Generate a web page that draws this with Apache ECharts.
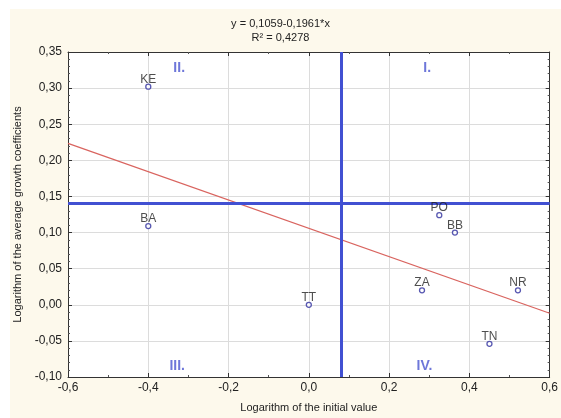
<!DOCTYPE html>
<html>
<head>
<meta charset="utf-8">
<script src="https://cdn.jsdelivr.net/npm/echarts@6/dist/echarts.min.js"></script>
<style>
  html, body { margin: 0; padding: 0; background: #ffffff; }
  #chart { width: 561px; height: 418px; }
</style>
</head>
<body>
<div id="chart"></div>
<script>
const regionNames = ["KE", "BA", "TT", "PO", "BB", "ZA", "NR", "TN"];
const initialLog = [-0.4, -0.4, 0.0, 0.325, 0.364, 0.282, 0.521, 0.45];
const growthLog = [0.302, 0.109, 0.0, 0.124, 0.1, 0.02, 0.02, -0.054];
const intercept = 0.1059;
const slope = -0.1961;
const xRange = [-0.6, 0.6];
const splitX = 0.08;
const splitY = 0.142;
const quadrantNames = ["I.", "II.", "III.", "IV."];
const quadrantX = [0.295, -0.323, -0.328, 0.288];
const quadrantY = [0.328, 0.328, -0.085, -0.085];

const FONT = "Liberation Sans, Arial, sans-serif";
const commaFmt = (digits) => (v) => v.toFixed(digits).replace(".", ",");

const pointData = regionNames.map((name, i) => ({
  name: name,
  value: [initialLog[i], growthLog[i]],
}));
const fitData = xRange.map((x) => [x, intercept + slope * x]);
const quadrantData = quadrantNames.map((name, i) => ({
  name: name,
  value: [quadrantX[i], quadrantY[i]],
}));

const chartElement = document.getElementById("chart");
const chartInstance = echarts.init(chartElement);

const baseAxis = {
  axisLine: { show: true, onZero: false, lineStyle: { color: "#333", width: 1 } },
  axisTick: { show: true, inside: true, length: 4, lineStyle: { color: "#333" } },
  minorTick: { show: true, length: 2, lineStyle: { color: "#555" } },
};

const option = {
  animation: false,
  graphic: [
    {
      type: "rect",
      left: 10,
      top: 9,
      shape: { width: 551, height: 409 },
      style: { fill: "#fdf9ec" },
      z: -10,
    },
  ],
  title: {
    text: "y = 0,1059-0,1961*x\nR² = 0,4278",
    left: "center",
    top: 12,
    textStyle: {
      fontFamily: FONT,
      fontSize: 11,
      fontWeight: "normal",
      color: "#222",
      lineHeight: 14,
    },
  },
  grid: {
    left: 68,
    right: 10,
    top: 52,
    bottom: 37,
    show: true,
    backgroundColor: "#ffffff",
    borderWidth: 0,
  },
  xAxis: [
    {
      ...baseAxis,
      type: "value",
      position: "bottom",
      min: -0.6,
      max: 0.6,
      interval: 0.2,
      minorTick: { ...baseAxis.minorTick, splitNumber: 2 },
      axisLabel: {
        formatter: commaFmt(1),
        fontFamily: FONT,
        fontSize: 12,
        color: "#222",
        margin: 5,
      },
      splitLine: { show: true, lineStyle: { color: "#dcdcdc" } },
      name: "Logarithm of the initial value",
      nameLocation: "middle",
      nameGap: 25,
      nameTextStyle: { fontFamily: FONT, fontSize: 11, color: "#222" },
    },
    {
      ...baseAxis,
      type: "value",
      position: "top",
      min: -0.6,
      max: 0.6,
      interval: 0.2,
      minorTick: { ...baseAxis.minorTick, splitNumber: 2 },
      axisLabel: { show: false },
      splitLine: { show: false },
    },
  ],
  yAxis: [
    {
      ...baseAxis,
      type: "value",
      position: "left",
      min: -0.1,
      max: 0.35,
      interval: 0.05,
      minorTick: { ...baseAxis.minorTick, splitNumber: 5 },
      axisLabel: {
        formatter: commaFmt(2),
        fontFamily: FONT,
        fontSize: 12,
        color: "#222",
        margin: 6,
      },
      splitLine: { show: true, lineStyle: { color: "#dcdcdc" } },
      name: "Logarithm of the average growth coefficients",
      nameLocation: "middle",
      nameGap: 39,
      nameTextStyle: { fontFamily: FONT, fontSize: 11, color: "#222" },
    },
    {
      ...baseAxis,
      type: "value",
      position: "right",
      min: -0.1,
      max: 0.35,
      interval: 0.05,
      minorTick: { ...baseAxis.minorTick, splitNumber: 5 },
      axisLabel: { show: false },
      splitLine: { show: false },
    },
  ],
  series: [
    {
      type: "line",
      data: fitData,
      symbol: "none",
      lineStyle: { color: "#d9645f", width: 1.2 },
      z: 3,
      markLine: {
        silent: true,
        symbol: "none",
        label: { show: false },
        lineStyle: { color: "#4150d2", width: 3, type: "solid" },
        data: [{ xAxis: splitX }, { yAxis: splitY }],
      },
    },
    {
      type: "scatter",
      data: pointData,
      symbol: "circle",
      symbolSize: 5,
      itemStyle: { color: "#ffffff", borderColor: "#2e2e9e", borderWidth: 1.3 },
      label: {
        show: true,
        position: "top",
        distance: -2,
        formatter: (params) => params.name,
        fontFamily: FONT,
        fontSize: 12,
        color: "#222",
      },
      z: 5,
    },
    {
      type: "scatter",
      data: quadrantData,
      symbolSize: 0,
      silent: true,
      label: {
        show: true,
        position: "inside",
        formatter: (params) => params.name,
        fontFamily: FONT,
        fontSize: 14,
        fontWeight: "bold",
        color: "#4a55d0",
      },
    },
  ],
};

chartInstance.setOption(option);
</script>
</body>
</html>
